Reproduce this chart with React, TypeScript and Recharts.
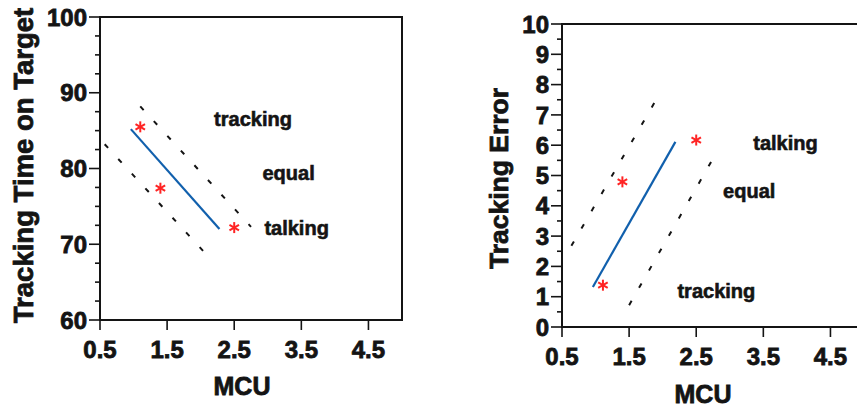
import React from 'react';
import { ScatterChart, Scatter, XAxis, YAxis, ReferenceLine, ReferenceArea } from 'recharts';

const FONT = 'Liberation Sans, Arial, Helvetica, sans-serif';
const INK = '#141414';
const BLUE = '#1160ad';
const RED = '#ff2424';

// shared x axis
const xTicks = [0.5, 1.5, 2.5, 3.5, 4.5];
const xDomain = [0.5, 5];
const xTitle = 'MCU';

// left panel
const leftTitle = 'Tracking Time on Target';
const leftDomain = [60, 100];
const leftMajor = [60, 70, 80, 90, 100];
const leftTicks = [60, 62.5, 65, 67.5, 70, 72.5, 75, 77.5, 80, 82.5, 85, 87.5, 90, 92.5, 95, 97.5, 100];
const leftFit = [{ x: 0.96, y: 85.2 }, { x: 2.28, y: 72.0 }];
const leftUpper = [{ x: 1.1, y: 88.2 }, { x: 2.75, y: 72.3 }];
const leftLower = [{ x: 0.57, y: 83.2 }, { x: 2.07, y: 68.8 }];
const leftPoints = [{ x: 1.1, y: 85.5 }, { x: 1.4, y: 77.4 }, { x: 2.5, y: 72.2 }];
const leftNotes = [
  { x: 2.78, y: 86.5, text: 'tracking' },
  { x: 3.31, y: 79.4, text: 'equal' },
  { x: 3.43, y: 72.2, text: 'talking' },
];

// right panel
const rightTitle = 'Tracking Error';
const rightDomain = [0, 10];
const rightMajor = [0, 1, 2, 3, 4, 5, 6, 7, 8, 9, 10];
const rightTicks = [0, 0.5, 1, 1.5, 2, 2.5, 3, 3.5, 4, 4.5, 5, 5.5, 6, 6.5, 7, 7.5, 8, 8.5, 9, 9.5, 10];
const rightFit = [{ x: 0.96, y: 1.32 }, { x: 2.19, y: 6.11 }];
const rightUpper = [{ x: 0.64, y: 2.68 }, { x: 1.9, y: 7.49 }];
const rightLower = [{ x: 1.5, y: 0.72 }, { x: 2.74, y: 5.52 }];
const rightPoints = [{ x: 1.11, y: 1.38 }, { x: 1.4, y: 4.79 }, { x: 2.5, y: 6.17 }];
const rightNotes = [
  { x: 3.83, y: 6.08, text: 'talking' },
  { x: 3.29, y: 4.48, text: 'equal' },
  { x: 2.8, y: 1.19, text: 'tracking' },
];

const textStyle = (size: number) => ({
  fontFamily: FONT,
  fontWeight: 700,
  fontSize: size,
  fill: INK,
  stroke: INK,
  strokeWidth: 0.8,
});

const makeYTick = (majors: number[]) => (p: any) => {
  const { x, y, payload } = p;
  const major = majors.includes(payload.value);
  return (
    <g>
      <line x1={x - (major ? 11 : 5)} x2={x} y1={y} y2={y} stroke={INK} strokeWidth={1.6} />
      {major && (
        <text x={x - 13} y={y} dy="0.36em" textAnchor="end" style={textStyle(24)}>
          {payload.value}
        </text>
      )}
    </g>
  );
};

const XTick = (p: any) => {
  const { x, y, payload } = p;
  return (
    <g>
      <line x1={x} x2={x} y1={y} y2={y + 10} stroke={INK} strokeWidth={1.6} />
      <text x={x} y={y + 29} dy="0.36em" textAnchor="middle" style={textStyle(24)}>
        {payload.value.toFixed(1)}
      </text>
    </g>
  );
};

const Asterisk = (p: any) => {
  const { cx, cy } = p;
  const r = 5.5;
  const a = r * Math.cos(Math.PI / 6);
  const b = r * 0.5;
  return (
    <g stroke={RED} strokeWidth={2}>
      <line x1={cx} y1={cy - r} x2={cx} y2={cy + r} />
      <line x1={cx - a} y1={cy - b} x2={cx + a} y2={cy + b} />
      <line x1={cx - a} y1={cy + b} x2={cx + a} y2={cy - b} />
    </g>
  );
};

const Note = (p: any) => {
  const { cx, cy, payload } = p;
  return (
    <text x={cx} y={cy} dy="0.36em" textAnchor="middle" style={{ ...textStyle(20), strokeWidth: 0.6 }}>
      {payload.text}
    </text>
  );
};

const titleStyle = (size: number) => ({ ...textStyle(size), textAnchor: 'middle' as const });

type PanelProps = {
  width: number;
  margin: { top: number; right: number; bottom: number; left: number };
  yWidth: number;
  xHeight: number;
  yDomain: number[];
  yTicks: number[];
  yMajor: number[];
  yTitle: string;
  yTitleOffset: number;
  yTitleSize: number;
  yTitleDy: number;
  xTitleOffset: number;
  xTitleDx: number;
  fit: { x: number; y: number }[];
  upper: { x: number; y: number }[];
  lower: { x: number; y: number }[];
  points: { x: number; y: number }[];
  notes: { x: number; y: number; text: string }[];
};

function Panel(props: PanelProps) {
  const { width, margin, yWidth, xHeight, yDomain, yTicks, yMajor, yTitle, yTitleOffset, yTitleSize, yTitleDy, xTitleOffset, xTitleDx, fit, upper, lower, points, notes } = props;
  return (
    <ScatterChart width={width} height={408} margin={margin}>
      <XAxis
        type="number"
        dataKey="x"
        domain={xDomain}
        ticks={xTicks}
        allowDataOverflow
        height={xHeight}
        tickSize={0}
        tickMargin={0}
        tickLine={false}
        tick={XTick}
        axisLine={{ stroke: INK, strokeWidth: 2 }}
        label={{ value: xTitle, position: 'insideBottom', offset: xTitleOffset, dx: xTitleDx, style: titleStyle(25) }}
      />
      <YAxis
        type="number"
        dataKey="y"
        domain={yDomain}
        ticks={yTicks}
        interval={0}
        allowDataOverflow
        width={yWidth}
        tickSize={0}
        tickMargin={0}
        tickLine={false}
        tick={makeYTick(yMajor)}
        axisLine={{ stroke: INK, strokeWidth: 2 }}
        label={{ value: yTitle, angle: -90, position: 'insideLeft', offset: yTitleOffset, dy: yTitleDy, style: titleStyle(yTitleSize) }}
      />
      <ReferenceArea x1={xDomain[0]} x2={xDomain[1]} y1={yDomain[0]} y2={yDomain[1]} fill="none" stroke={INK} strokeWidth={2} />
      <ReferenceLine segment={upper} stroke={INK} strokeWidth={2} strokeDasharray="5 15" />
      <ReferenceLine segment={lower} stroke={INK} strokeWidth={2} strokeDasharray="5 15" />
      <ReferenceLine segment={fit} stroke={BLUE} strokeWidth={2.2} />
      <Scatter data={points} shape={Asterisk} isAnimationActive={false} />
      <Scatter data={notes} shape={Note} isAnimationActive={false} />
    </ScatterChart>
  );
}

export default function App() {
  return (
    <div style={{ position: 'absolute', left: 0, top: 0, width: 857, height: 408, overflow: 'hidden', background: '#fff' }}>
      <div style={{ position: 'absolute', left: 0, top: 0 }}>
        <Panel
          width={430}
          margin={{ top: 17, right: 28, bottom: 0, left: 0 }}
          yWidth={100}
          xHeight={88}
          yDomain={leftDomain}
          yTicks={leftTicks}
          yMajor={leftMajor}
          yTitle={leftTitle}
          yTitleOffset={23}
          yTitleSize={27.5}
          yTitleDy={-3}
          xTitleOffset={13}
          xTitleDx={-9}
          fit={leftFit}
          upper={leftUpper}
          lower={leftLower}
          points={leftPoints}
          notes={leftNotes}
        />
      </div>
      <div style={{ position: 'absolute', left: 430, top: 0, width: 427, height: 408, overflow: 'hidden' }}>
        <Panel
          width={440}
          margin={{ top: 24, right: 6, bottom: 0, left: 0 }}
          yWidth={132}
          xHeight={81}
          yDomain={rightDomain}
          yTicks={rightTicks}
          yMajor={rightMajor}
          yTitle={rightTitle}
          yTitleOffset={69}
          yTitleSize={26.5}
          yTitleDy={3}
          xTitleOffset={5}
          xTitleDx={-10}
          fit={rightFit}
          upper={rightUpper}
          lower={rightLower}
          points={rightPoints}
          notes={rightNotes}
        />
      </div>
    </div>
  );
}
